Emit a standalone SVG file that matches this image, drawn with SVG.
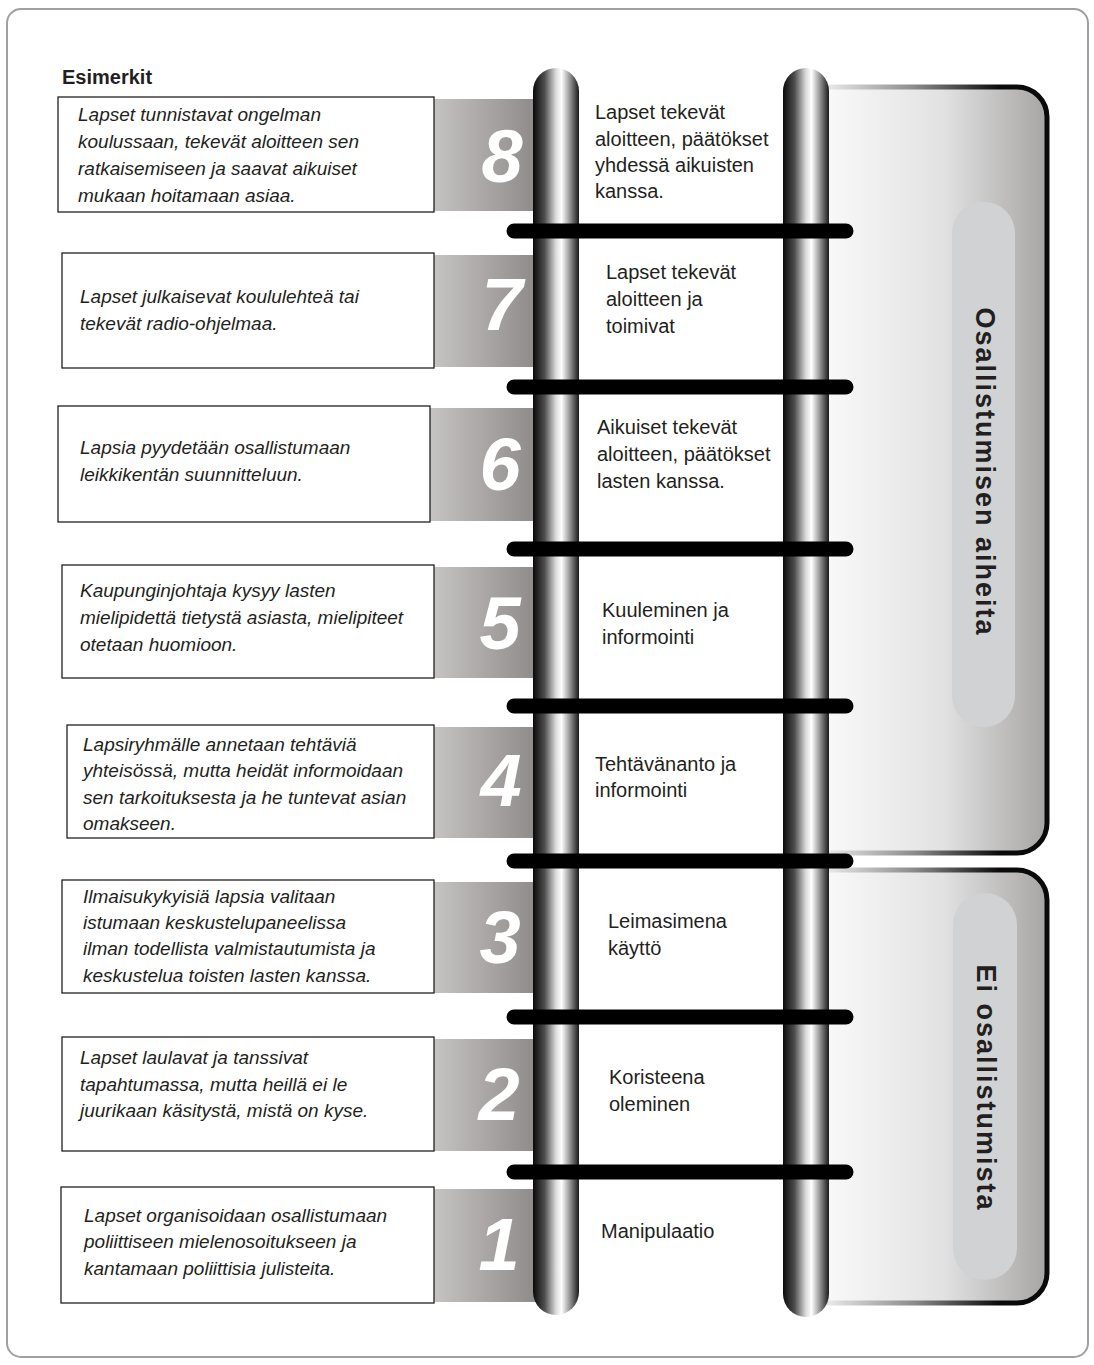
<svg xmlns="http://www.w3.org/2000/svg" width="1094" height="1365" viewBox="0 0 1094 1365">
<defs>
<linearGradient id="rail" x1="0" y1="0" x2="1" y2="0">
<stop offset="0" stop-color="#0a0a0a"/>
<stop offset="0.25" stop-color="#4d4d4d"/>
<stop offset="0.5" stop-color="#dcdcdc"/>
<stop offset="0.62" stop-color="#ffffff"/>
<stop offset="0.82" stop-color="#8a8a8a"/>
<stop offset="1" stop-color="#1a1a1a"/>
</linearGradient>
<linearGradient id="band" x1="0" y1="0" x2="1" y2="0">
<stop offset="0" stop-color="#c6c3c3"/>
<stop offset="0.8" stop-color="#918d8c"/>
<stop offset="1" stop-color="#9c9998"/>
</linearGradient>
<linearGradient id="bfill" gradientUnits="userSpaceOnUse" x1="815" y1="0" x2="1047" y2="0">
<stop offset="0" stop-color="#fbfbfb"/>
<stop offset="0.55" stop-color="#e2e2e2"/>
<stop offset="1" stop-color="#a7a5a4"/>
</linearGradient>
<linearGradient id="bstroke" gradientUnits="userSpaceOnUse" x1="830" y1="0" x2="1000" y2="0">
<stop offset="0" stop-color="#e6e6e6"/>
<stop offset="0.5" stop-color="#8a8a8a"/>
<stop offset="1" stop-color="#0a0a0a"/>
</linearGradient>
</defs>
<style>
.frame{fill:#fff;stroke:#a0a0a0;stroke-width:2}
.box{fill:#fff;stroke:#231f20;stroke-width:1.3}
.band{fill:url(#band)}
.ex{font-family:"Liberation Sans",Arial,sans-serif;font-style:italic;font-size:19px;fill:#231f20}
.lbl{font-family:"Liberation Sans",Arial,sans-serif;font-size:20px;fill:#231f20}
.num{font-family:"Liberation Sans",Arial,sans-serif;font-weight:bold;font-style:italic;font-size:74px;fill:#fff;text-anchor:middle}
.rail{fill:url(#rail)}
.rung{stroke:#000;stroke-width:15;stroke-linecap:round}
.bk{fill:url(#bfill);stroke:url(#bstroke);stroke-width:5}
.pill{fill:#d1d2d4}
.side{font-family:"Liberation Sans",Arial,sans-serif;font-weight:bold;font-size:27px;letter-spacing:2px;fill:#231f20;text-anchor:middle;dominant-baseline:central}
.title{font-family:"Liberation Sans",Arial,sans-serif;font-weight:bold;font-size:20px;fill:#231f20}
</style>
<rect class="frame" x="7" y="9" width="1081" height="1348" rx="14"/>
<text class="title" x="62" y="84">Esimerkit</text>

<g id="bracket-osallistuminen">
<path class="bk" d="M815 87 H1017 A30 30 0 0 1 1047 117 V823 A30 30 0 0 1 1017 853 H815"/>
<rect class="pill" x="952" y="202" width="63" height="525" rx="31"/>
<text class="side" transform="translate(985 472) rotate(90)">Osallistumisen aiheita</text>
</g>
<g id="bracket-ei">
<path class="bk" d="M815 870 H1017 A30 30 0 0 1 1047 900 V1273 A30 30 0 0 1 1017 1303 H815"/>
<rect class="pill" x="953" y="893" width="64" height="387" rx="32"/>
<text class="side" transform="translate(986 1088) rotate(90)">Ei osallistumista</text>
</g>

<g id="step-8">
<rect class="band" x="432" y="99" width="124" height="112"/>
<rect class="box" x="58" y="97" width="376" height="115"/>
<text class="ex"><tspan x="78" y="121">Lapset tunnistavat ongelman</tspan><tspan x="78" y="148">koulussaan, tekevät aloitteen sen</tspan><tspan x="78" y="175">ratkaisemiseen ja saavat aikuiset</tspan><tspan x="78" y="202">mukaan hoitamaan asiaa.</tspan></text>
<text class="num" x="502" y="182">8</text>
</g>
<g id="step-7">
<rect class="band" x="434" y="255" width="122" height="112"/>
<rect class="box" x="62" y="253" width="372" height="115"/>
<text class="ex"><tspan x="80" y="303">Lapset julkaisevat koululehteä tai</tspan><tspan x="80" y="330">tekevät radio-ohjelmaa.</tspan></text>
<text class="num" x="502" y="330">7</text>
</g>
<g id="step-6">
<rect class="band" x="430" y="408" width="126" height="113"/>
<rect class="box" x="58" y="406" width="372" height="116"/>
<text class="ex"><tspan x="80" y="454">Lapsia pyydetään osallistumaan</tspan><tspan x="80" y="481">leikkikentän suunnitteluun.</tspan></text>
<text class="num" x="500" y="490">6</text>
</g>
<g id="step-5">
<rect class="band" x="434" y="567" width="122" height="111"/>
<rect class="box" x="62" y="565" width="372" height="113"/>
<text class="ex"><tspan x="80" y="597">Kaupunginjohtaja kysyy lasten</tspan><tspan x="80" y="624">mielipidettä tietystä asiasta, mielipiteet</tspan><tspan x="80" y="651">otetaan huomioon.</tspan></text>
<text class="num" x="500" y="649">5</text>
</g>
<g id="step-4">
<rect class="band" x="434" y="727" width="122" height="111"/>
<rect class="box" x="67" y="725" width="367" height="113"/>
<text class="ex"><tspan x="83" y="751">Lapsiryhmälle annetaan tehtäviä</tspan><tspan x="83" y="777">yhteisössä, mutta heidät informoidaan</tspan><tspan x="83" y="804">sen tarkoituksesta ja he tuntevat asian</tspan><tspan x="83" y="830">omakseen.</tspan></text>
<text class="num" x="501" y="806">4</text>
</g>
<g id="step-3">
<rect class="band" x="434" y="882" width="122" height="111"/>
<rect class="box" x="62" y="880" width="372" height="113"/>
<text class="ex"><tspan x="83" y="903">Ilmaisukykyisiä lapsia valitaan</tspan><tspan x="83" y="929">istumaan keskustelupaneelissa</tspan><tspan x="83" y="955">ilman todellista valmistautumista ja</tspan><tspan x="83" y="982">keskustelua toisten lasten kanssa.</tspan></text>
<text class="num" x="500" y="963">3</text>
</g>
<g id="step-2">
<rect class="band" x="434" y="1039" width="122" height="112"/>
<rect class="box" x="62" y="1037" width="372" height="114"/>
<text class="ex"><tspan x="80" y="1064">Lapset laulavat ja tanssivat</tspan><tspan x="80" y="1091">tapahtumassa, mutta heillä ei le</tspan><tspan x="80" y="1117">juurikaan käsitystä, mistä on kyse.</tspan></text>
<text class="num" x="499" y="1120">2</text>
</g>
<g id="step-1">
<rect class="band" x="434" y="1189" width="122" height="113"/>
<rect class="box" x="61" y="1187" width="373" height="116"/>
<text class="ex"><tspan x="84" y="1222">Lapset organisoidaan osallistumaan</tspan><tspan x="84" y="1248">poliittiseen mielenosoitukseen ja</tspan><tspan x="84" y="1275">kantamaan poliittisia julisteita.</tspan></text>
<text class="num" x="499" y="1270">1</text>
</g>

<g id="ladder">
<rect class="rail" x="533" y="68" width="46" height="1247" rx="23"/>
<rect class="rail" x="783" y="68" width="46" height="1249" rx="23"/>
</g>
<g id="connectors">
<line class="rung" x1="514" y1="231" x2="846" y2="231"/>
<line class="rung" x1="514" y1="387" x2="846" y2="387"/>
<line class="rung" x1="514" y1="549" x2="846" y2="549"/>
<line class="rung" x1="514" y1="706" x2="846" y2="706"/>
<line class="rung" x1="514" y1="861" x2="846" y2="861"/>
<line class="rung" x1="514" y1="1017" x2="846" y2="1017"/>
<line class="rung" x1="514" y1="1172" x2="846" y2="1172"/>
</g>

<g id="labels">
<text class="lbl"><tspan x="595" y="119">Lapset tekevät</tspan><tspan x="595" y="146">aloitteen, päätökset</tspan><tspan x="595" y="172">yhdessä aikuisten</tspan><tspan x="595" y="198">kanssa.</tspan></text>
<text class="lbl"><tspan x="606" y="279">Lapset tekevät</tspan><tspan x="606" y="306">aloitteen ja</tspan><tspan x="606" y="333">toimivat</tspan></text>
<text class="lbl"><tspan x="597" y="434">Aikuiset tekevät</tspan><tspan x="597" y="461">aloitteen, päätökset</tspan><tspan x="597" y="488">lasten kanssa.</tspan></text>
<text class="lbl"><tspan x="602" y="617">Kuuleminen ja</tspan><tspan x="602" y="644">informointi</tspan></text>
<text class="lbl"><tspan x="595" y="771">Tehtävänanto ja</tspan><tspan x="595" y="797">informointi</tspan></text>
<text class="lbl"><tspan x="608" y="928">Leimasimena</tspan><tspan x="608" y="955">käyttö</tspan></text>
<text class="lbl"><tspan x="609" y="1084">Koristeena</tspan><tspan x="609" y="1111">oleminen</tspan></text>
<text class="lbl"><tspan x="601" y="1238">Manipulaatio</tspan></text>
</g>
</svg>
